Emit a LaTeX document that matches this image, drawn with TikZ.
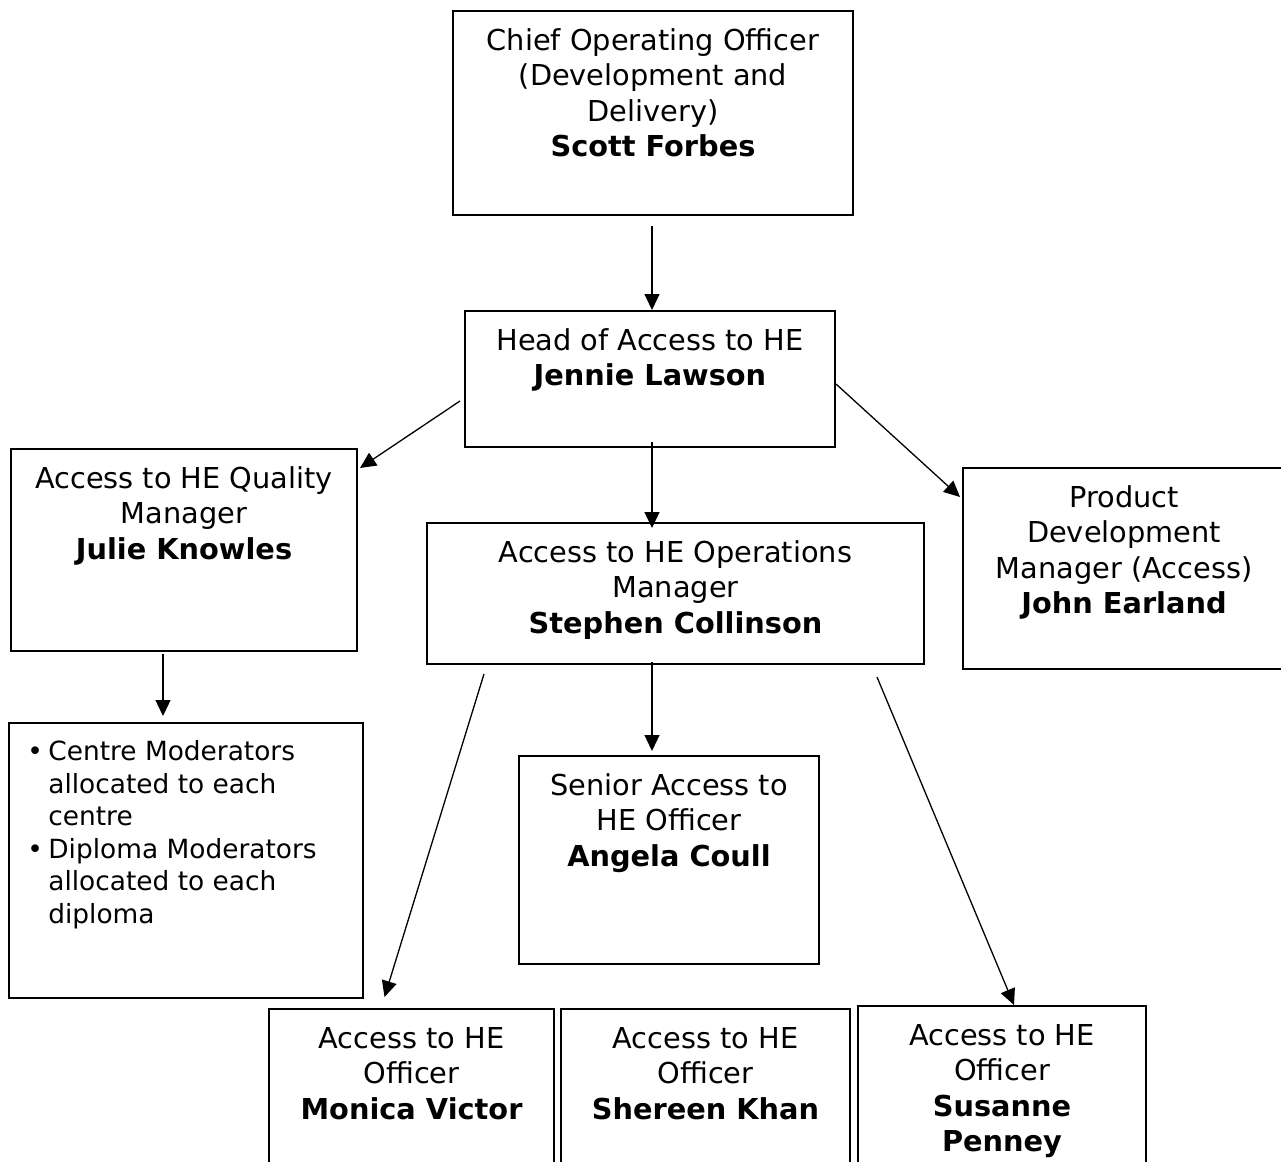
\documentclass[tikz,border=0pt]{standalone}
\usepackage{fontspec}
\setmainfont{DejaVu Sans}
\usepackage{tikz}
\usetikzlibrary{arrows.meta, calc, positioning}

% one reference pixel
\newdimen\pxu \pxu=0.5pt
% top-aligned box content: width, height (px), lines
\newcommand{\boxtxt}[3]{\parbox[t][#2\pxu][t]{#1\pxu}{\centering\vspace*{7.5pt}\strut#3}}

\begin{document}
\begin{tikzpicture}[
    x=0.5pt, y=-0.5pt,
    every node/.style={font=\fontsize{14.4}{17.6}\selectfont},
    box/.style={draw, line width=1pt, inner sep=0pt, anchor=north west},
    arr/.style={-{Triangle[length=8pt, width=7.5pt]}, line width=0.65pt},
  ]
  \useasboundingbox (0,0) rectangle (1281,1162);
  \clip (0,0) rectangle (1281,1162);
  % --- top
  \node[box] (coo) at (452,10) {\boxtxt{400}{204}{Chief Operating Officer\\(Development and\\Delivery)\\\textbf{Scott Forbes}}};
  \node[box] (head) at (464,310) {\boxtxt{370}{136}{Head of Access to HE\\\textbf{Jennie Lawson}}};
  % --- second tier
  \node[box] (qual) at (10,448) {\boxtxt{346}{202}{Access to HE Quality\\Manager\\\textbf{Julie Knowles}}};
  \node[box] (ops) at (426,522) {\boxtxt{497}{141}{Access to HE Operations\\Manager\\\textbf{Stephen Collinson}}};
  \node[box] (prod) at (962,467) {\boxtxt{322}{201}{Product\\Development\\Manager (Access)\\\textbf{John Earland}}};
  % --- moderators
  \node[box] (mod) at (8,722) {\parbox[t][275\pxu][t]{354\pxu}{\fontsize{13.2}{16.25}\selectfont\vspace*{7.6pt}%
    \hspace*{9.2pt}\begin{tabular}[t]{@{}l@{\hspace{2.7pt}}l@{}}
      \textbullet & Centre Moderators\\
                  & allocated to each\\
                  & centre\\
      \textbullet & Diploma Moderators\\
                  & allocated to each\\
                  & diploma
    \end{tabular}}};
  % --- officers
  \node[box] (sen) at (518,755) {\boxtxt{300}{208}{Senior Access to\\HE Officer\\\textbf{Angela Coull}}};
  \node[box] (mon) at (268,1008) {\boxtxt{285}{170}{Access to HE\\Officer\\\textbf{Monica Victor}}};
  \node[box] (she) at (560,1008) {\boxtxt{289}{170}{Access to HE\\Officer\\\textbf{Shereen Khan}}};
  \node[box] (sus) at (857,1005) {\boxtxt{288}{175}{Access to HE\\Officer\\\textbf{Susanne}\\\textbf{Penney}}};
  % --- edges
  \draw[arr] ($(coo.south)+(-1,10)$) -- ($(coo.south |- head.north)+(-1,0)$);
  \draw[arr] ($(head.west)+(-4,22)$) -- ($(qual.north east)+(2,20)$);
  \draw[arr] ($(head.south)+(2,-6)$) -- ($(head.south |- ops.north)+(2,6)$);
  \draw[arr] ($(head.east)+(0,5)$) -- ($(prod.north west)+(-2,30)$);
  \draw[arr] ($(qual.south)+(-21,2)$) -- ($(qual.south |- mod.north)+(-21,-6)$);
  \draw[arr] ($(ops.south west)+(58,9)$) -- ($(mon.north)+(-27,-11)$);
  \draw[arr] ($(ops.south)+(-23.5,-3)$) -- ($(sen.north)+(-17,-4)$);
  \draw[arr] ($(ops.south east)+(-48,12)$) -- ($(sus.north)+(12,0)$);
\end{tikzpicture}
\end{document}
